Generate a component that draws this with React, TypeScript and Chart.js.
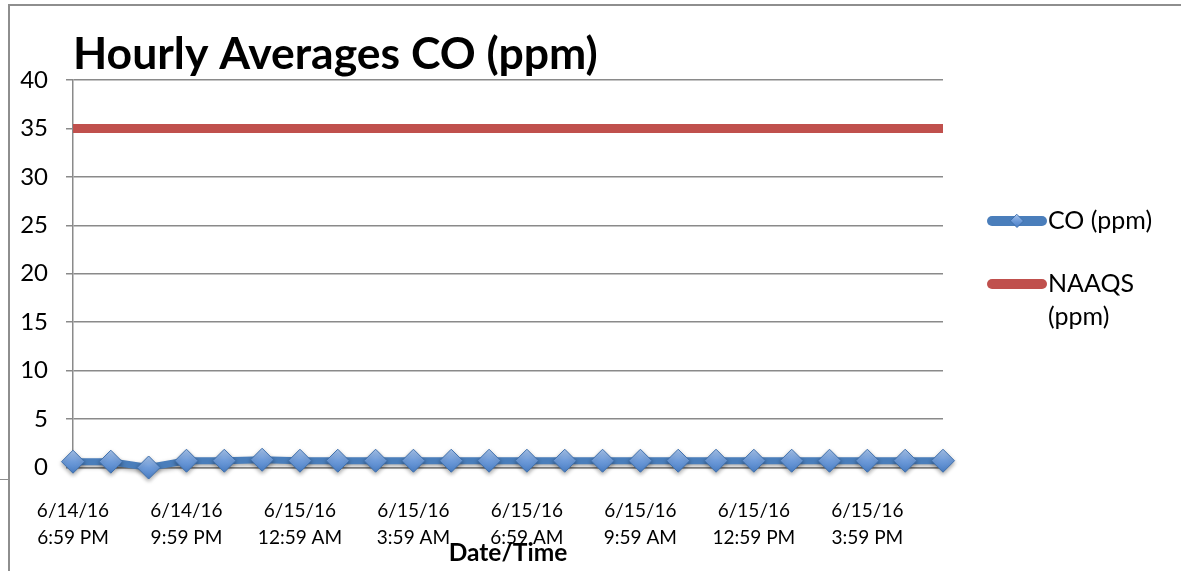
import React, { useEffect, useRef } from "react";
import { Chart, registerables } from "chart.js";

Chart.register(...registerables);

// ---------- data ----------
const categories: string[] = [
  "6/14/16 6:59 PM", "6/14/16 7:59 PM", "6/14/16 8:59 PM", "6/14/16 9:59 PM",
  "6/14/16 10:59 PM", "6/14/16 11:59 PM", "6/15/16 12:59 AM", "6/15/16 1:59 AM",
  "6/15/16 2:59 AM", "6/15/16 3:59 AM", "6/15/16 4:59 AM", "6/15/16 5:59 AM",
  "6/15/16 6:59 AM", "6/15/16 7:59 AM", "6/15/16 8:59 AM", "6/15/16 9:59 AM",
  "6/15/16 10:59 AM", "6/15/16 11:59 AM", "6/15/16 12:59 PM", "6/15/16 1:59 PM",
  "6/15/16 2:59 PM", "6/15/16 3:59 PM", "6/15/16 4:59 PM", "6/15/16 5:59 PM",
];

const coValues: number[] = [
  0.6, 0.6, 0.0, 0.7, 0.7, 0.8, 0.7, 0.7, 0.7, 0.7, 0.7, 0.7,
  0.7, 0.7, 0.7, 0.7, 0.7, 0.7, 0.7, 0.7, 0.7, 0.7, 0.7, 0.7,
];

const naaqsValues: number[] = [
  35, 35, 35, 35, 35, 35, 35, 35, 35, 35, 35, 35,
  35, 35, 35, 35, 35, 35, 35, 35, 35, 35, 35, 35,
];

const seriesNames: string[] = ["CO (ppm)", "NAAQS (ppm)"];
const chartTitle = "Hourly Averages CO (ppm)";
const xAxisTitle = "Date/Time";
const yMin = 0;
const yMax = 40;
const yStep = 5;
const labelEvery = 3;

// ---------- styles ----------
const FONT = "Lato, 'Open Sans', sans-serif";
const GRID = "#8a8a8a";
const BLUE = "#4A7EBB";
const RED = "#C0504D";

function wrapText(ctx: CanvasRenderingContext2D, text: string, maxW: number): string[] {
  const words = text.split(" ");
  const lines: string[] = [];
  let cur = "";
  for (const w of words) {
    const test = cur ? cur + " " + w : w;
    if (cur && ctx.measureText(test).width > maxW) {
      lines.push(cur);
      cur = w;
    } else {
      cur = test;
    }
  }
  if (cur) lines.push(cur);
  return lines;
}

function diamondGradient(ctx: CanvasRenderingContext2D, cy: number, r: number) {
  const g = ctx.createLinearGradient(0, cy - r, 0, cy + r);
  g.addColorStop(0, "#a9c6ee");
  g.addColorStop(0.5, "#6e9bd9");
  g.addColorStop(1, "#4a7fc6");
  return g;
}

const sideLegend = {
  id: "sideLegend",
  afterDraw(chart: any) {
    const { ctx, chartArea } = chart;
    const x0 = chartArea.right + 44;
    const textX = x0 + 61;
    const lineGap = 33;
    let y = chartArea.top + 141;
    ctx.save();
    ctx.font = `25px ${FONT}`;
    ctx.textBaseline = "middle";
    ctx.textAlign = "left";
    chart.data.datasets.forEach((ds: any) => {
      const lines = wrapText(ctx, ds.label, 120);
      ctx.strokeStyle = ds.borderColor;
      ctx.lineWidth = 10;
      ctx.lineCap = "round";
      ctx.beginPath();
      ctx.moveTo(x0 + 5, y);
      ctx.lineTo(x0 + 55, y);
      ctx.stroke();
      if (ds.pointRadius > 0) {
        const r = 6.5;
        const cx = x0 + 30;
        ctx.beginPath();
        ctx.moveTo(cx, y - r);
        ctx.lineTo(cx + r, y);
        ctx.lineTo(cx, y + r);
        ctx.lineTo(cx - r, y);
        ctx.closePath();
        ctx.fillStyle = diamondGradient(ctx, y, r);
        ctx.fill();
        ctx.lineWidth = 1;
        ctx.strokeStyle = "#3f70ad";
        ctx.stroke();
      }
      ctx.fillStyle = "#000";
      lines.forEach((l, i) => ctx.fillText(l, textX, y + i * lineGap));
      y += (lines.length - 1) * lineGap + 63;
    });
    ctx.restore();
  },
};

const shadowPlugin = {
  id: "coShadow",
  beforeDatasetDraw(chart: any, args: any) {
    if (args.index === 0) {
      const ctx = chart.ctx;
      ctx.save();
      ctx.shadowColor = "rgba(0,0,0,0.35)";
      ctx.shadowBlur = 4;
      ctx.shadowOffsetY = 2;
    }
  },
  afterDatasetDraw(chart: any, args: any) {
    if (args.index === 0) chart.ctx.restore();
  },
};

export default function App() {
  const canvasRef = useRef<HTMLCanvasElement | null>(null);

  useEffect(() => {
    if (!canvasRef.current) return;
    const chart = new Chart(canvasRef.current, {
      type: "line",
      data: {
        labels: categories,
        datasets: [
          {
            label: seriesNames[0],
            data: coValues,
            borderColor: BLUE,
            borderWidth: 7,
            tension: 0,
            pointStyle: "rectRot",
            pointRadius: 11.5,
            pointHoverRadius: 11.5,
            pointBorderWidth: 1,
            pointBorderColor: "#3f70ad",
            pointBackgroundColor: (c: any) => {
              const chart = c.chart;
              const ys = chart.scales && chart.scales.y;
              if (!ys || !c.parsed) return "#6e9bd9";
              const py = ys.getPixelForValue(c.parsed.y);
              if (!Number.isFinite(py)) return "#6e9bd9";
              return diamondGradient(chart.ctx, py, 11.5);
            },
            clip: false as any,
          },
          {
            label: seriesNames[1],
            data: naaqsValues,
            borderColor: RED,
            backgroundColor: RED,
            borderWidth: 9,
            borderCapStyle: "butt",
            pointRadius: 0,
            pointHoverRadius: 0,
            tension: 0,
            clip: false as any,
          },
        ],
      },
      options: {
        animation: false,
        responsive: true,
        maintainAspectRatio: false,
        events: [],
        layout: { padding: { top: 0, left: 0, right: 238, bottom: 0 } },
        plugins: {
          legend: { display: false },
          tooltip: { enabled: false },
          title: {
            display: true,
            text: chartTitle,
            align: "start",
            fullSize: false,
            color: "#000",
            font: { family: FONT, size: 44.5, weight: "bold", lineHeight: 1.0 },
            padding: { top: 32, bottom: 3.5 },
          },
        },
        scales: {
          x: {
            type: "category",
            offset: false,
            grid: { display: false, drawTicks: false },
            border: { display: true, color: GRID, width: 1.5 },
            ticks: {
              autoSkip: false,
              maxRotation: 0,
              minRotation: 0,
              padding: 30,
              color: "#000",
              font: { family: FONT, size: 19, lineHeight: 27 / 19 },
              callback: (_v: any, i: number) => {
                if (i % labelEvery !== 0) return "";
                const s = categories[i];
                const k = s.indexOf(" ");
                return [s.slice(0, k), s.slice(k + 1)];
              },
            },
            title: {
              display: true,
              text: xAxisTitle,
              color: "#000",
              font: { family: FONT, size: 24.5, weight: "bold", lineHeight: 1.2 },
              padding: { top: 0, bottom: 3 },
            },
            afterFit: (s: any) => {
              s.height = 103.5;
            },
          },
          y: {
            min: yMin,
            max: yMax,
            ticks: {
              stepSize: yStep,
              padding: 18,
              color: "#000",
              font: { family: FONT, size: 24 },
            },
            grid: { color: GRID, lineWidth: 1.5, tickLength: 7, drawTicks: true },
            border: { display: true, color: GRID, width: 1.5 },
            afterFit: (s: any) => {
              s.width = 73;
            },
          },
        },
      },
      plugins: [shadowPlugin, sideLegend],
    } as any);
    return () => chart.destroy();
  }, []);

  return (
    <div style={{ position: "absolute", left: 0, top: 0, width: 1181, height: 571, background: "#fff" }}>
      <div
        style={{
          position: "absolute",
          left: 8,
          top: 4,
          width: 1173,
          height: 567,
          borderTop: "2px solid #8e8e8e",
          borderLeft: "2px solid #8e8e8e",
          boxSizing: "border-box",
        }}
      />
      <div style={{ position: "absolute", left: 0, top: 479, width: 8, height: 1, background: "#8e8e8e" }} />
      <canvas ref={canvasRef} style={{ position: "absolute", left: 0, top: 0, width: 1181, height: 571 }} />
    </div>
  );
}
